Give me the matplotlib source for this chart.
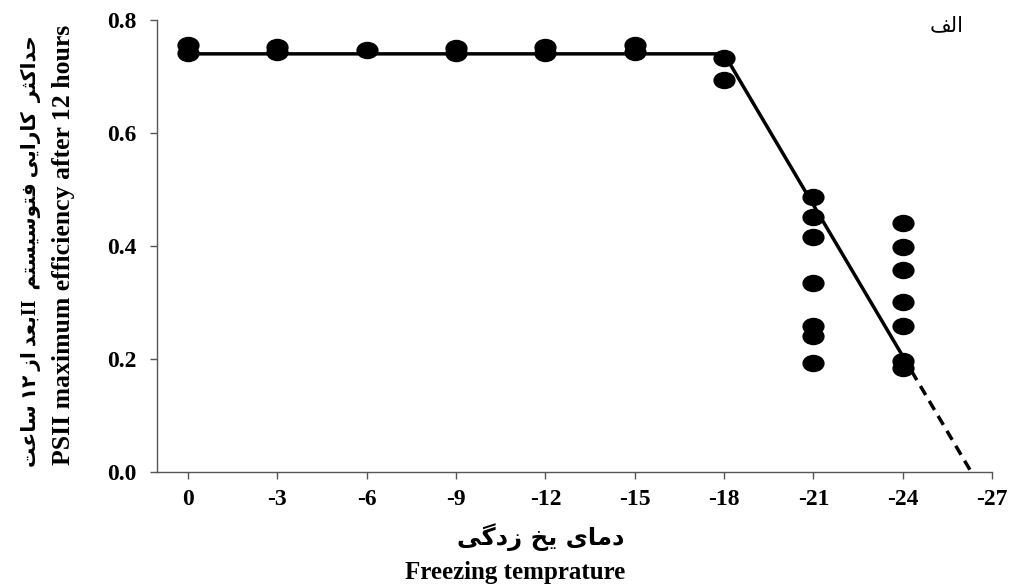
import matplotlib
matplotlib.use("Agg")
import matplotlib.pyplot as plt
from matplotlib.path import Path
from matplotlib.transforms import Affine2D

# measured points, grouped per freezing temperature
temps = [0, -3, -6, -9, -12, -15, -18, -21, -24]
fv_values = [
    [0.755, 0.742],
    [0.752, 0.743],
    [0.747],
    [0.750, 0.741],
    [0.752, 0.741],
    [0.756, 0.743],
    [0.733, 0.694],
    [0.486, 0.452, 0.415, 0.335, 0.259, 0.241, 0.192],
    [0.440, 0.399, 0.358, 0.300, 0.259, 0.197, 0.184],
]

# segmented fit and its extrapolation to zero
fit_x = [0, -18, -24]
fit_y = [0.74, 0.74, 0.205]
ext_x = [-24, -26.3]
ext_y = [0.205, 0.0]

xticks = [0, -3, -6, -9, -12, -15, -18, -21, -24, -27]
yticks = [0.0, 0.2, 0.4, 0.6, 0.8]

# Persian text written as presentation forms in visual order (no shaping engine)
panel_label = "\uFED2\uFEDF\uFE8D"
xlabel_fa = "\uFEF0\uFB94\uFEA9\uFEAF \uFEA6\uFEF3 \uFEEF\uFE8E\uFEE3\uFEA9"
ylabel_fa = ("\uFE96\uFECB\uFE8E\uFEB3 \u06F1\u06F2 \uFEAF\uFE8D \uFEAA\uFECC\uFE91II  "
             "\uFEE2\uFE98\uFEB4\uFEF4\uFEB3\uFEEE\uFE98\uFED3 "
             "\uFEF0\uFEF3\uFE8D\uFEAD\uFE8E\uFB90  "
             "\uFEAE\uFE9C\uFB90\uFE8D\uFEAA\uFEA3")
xlabel_en = "Freezing temprature"
ylabel_en = "PSII maximum efficiency after 12 hours"

SERIF = ["Liberation Serif", "DejaVu Sans"]

# slightly wide dots, as in the original figure
dot = Path.unit_circle().transformed(Affine2D().scale(1.3, 1.0))

fig = plt.figure(figsize=(10.2, 5.87), dpi=100)
ax = fig.add_axes([0.154, 0.196, 0.8186, 0.770])

for t, vals in zip(temps, fv_values):
    ax.plot([t] * len(vals), vals, linestyle="none", marker=dot,
            markersize=15, color="black", zorder=3)

ax.plot(fit_x, fit_y, color="black", lw=2.5, zorder=2)
ax.plot(ext_x, ext_y, color="black", lw=2.5, ls=(0, (3, 2)), zorder=2)

ax.set_xlim(1.04, -27)
ax.set_ylim(0, 0.8)
ax.set_xticks(xticks)
ax.set_yticks(yticks)
ax.set_xticklabels([str(v) for v in xticks])
ax.set_yticklabels([f"{v:.1f}" for v in yticks])

for lab in ax.get_xticklabels() + ax.get_yticklabels():
    lab.set_fontfamily(SERIF)
    lab.set_fontweight("bold")
    lab.set_fontsize(17)

for side in ("top", "right"):
    ax.spines[side].set_visible(False)
for side in ("left", "bottom"):
    ax.spines[side].set_color("#555555")
    ax.spines[side].set_linewidth(1.0)
ax.tick_params(direction="out", length=5, width=1, color="#555555")
ax.tick_params(axis="x", pad=7)
ax.tick_params(axis="y", pad=10)

ax.text(0.946, 0.988, panel_label, transform=ax.transAxes, ha="center",
        va="center", fontsize=15, family="DejaVu Sans")

fig.text(0.53, 0.085, xlabel_fa, ha="center", va="center", fontsize=17.5,
         family="DejaVu Sans", fontweight="bold")
fig.text(0.505, 0.025, xlabel_en, ha="center", va="center", fontsize=18,
         family=SERIF, fontweight="bold")
fig.text(0.03, 0.572, ylabel_fa, ha="center", va="center", rotation=90,
         fontsize=14.5, family=SERIF, fontweight="bold")
fig.text(0.062, 0.583, ylabel_en, ha="center", va="center", rotation=90,
         fontsize=18.5, family=SERIF, fontweight="bold")

fig.savefig("out.png", dpi=100)
